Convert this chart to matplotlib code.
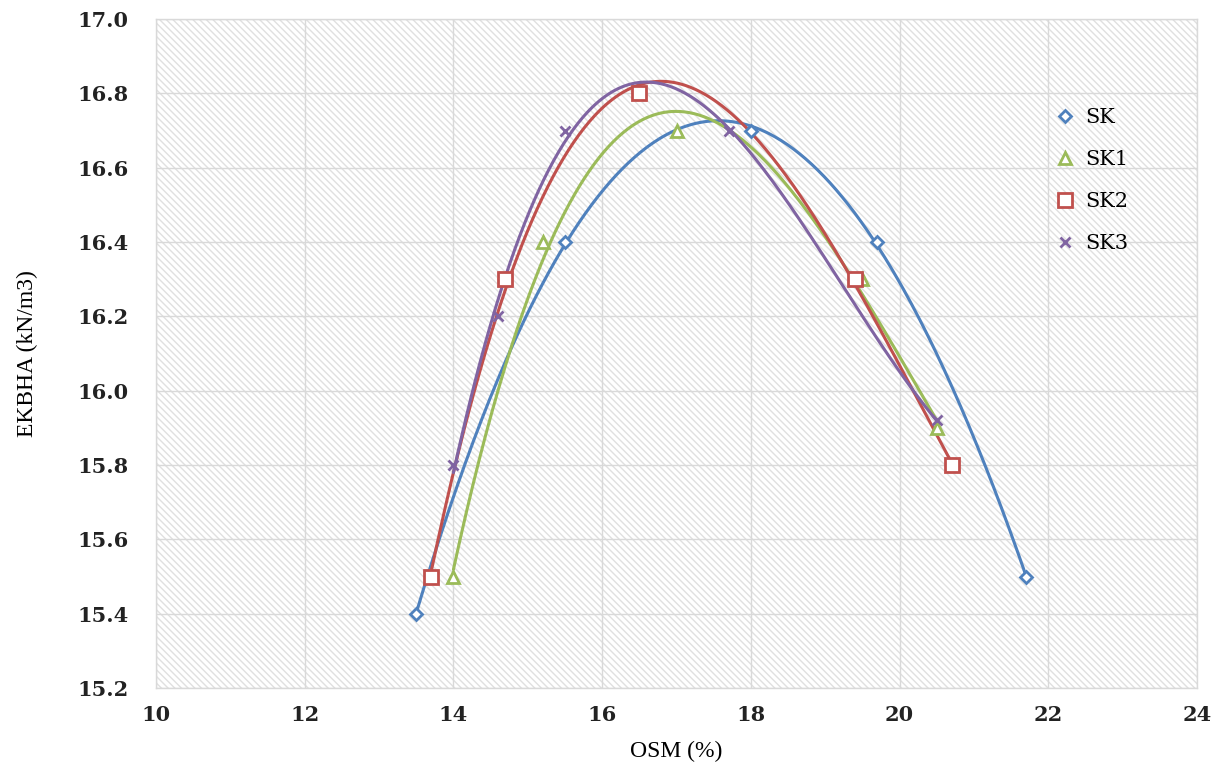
import numpy as np
import matplotlib
matplotlib.use("Agg")
import matplotlib.pyplot as plt
from matplotlib.patches import Rectangle
from matplotlib.lines import Line2D

# ---- data ----
series_names = ["SK", "SK1", "SK2", "SK3"]
sk_x = [13.5, 15.5, 18.0, 19.7, 21.7]
sk_y = [15.4, 16.4, 16.7, 16.4, 15.5]
sk1_x = [14.0, 15.2, 17.0, 19.5, 20.5]
sk1_y = [15.5, 16.4, 16.7, 16.3, 15.9]
sk2_x = [13.7, 14.7, 16.5, 19.4, 20.7]
sk2_y = [15.5, 16.3, 16.8, 16.3, 15.8]
sk3_x = [14.0, 14.6, 15.5, 17.7, 20.5]
sk3_y = [15.8, 16.2, 16.7, 16.7, 15.92]
x_ticks = [10, 12, 14, 16, 18, 20, 22, 24]
y_ticks = [15.2, 15.4, 15.6, 15.8, 16.0, 16.2, 16.4, 16.6, 16.8, 17.0]
x_label = "OSM (%)"
y_label = "EKBHA (kN/m3)"
trend_order = 3  # polynomial trendline order

colors = ["#4F81BD", "#9BBB59", "#C0504D", "#8064A2"]
markers = ["D", "^", "s", "x"]
msizes = [6, 9, 10, 7]

fig = plt.figure(figsize=(12.21, 7.73), dpi=100)
ax = fig.add_axes([156 / 1221, 1 - 688 / 773, (1197 - 156) / 1221, (688 - 19) / 773])
ax.set_xlim(10, 24)
ax.set_ylim(15.2, 17.0)
ax.patch.set_facecolor("white")
ax.add_patch(Rectangle((0, 0), 1, 1, transform=ax.transAxes, facecolor="white",
                       edgecolor="#e0e0e0", hatch="\\\\\\\\\\", linewidth=0, zorder=0))
ax.set_axisbelow(True)
ax.grid(True, color="#d9d9d9", linewidth=1.0)
for s in ax.spines.values():
    s.set_color("#d9d9d9")
    s.set_linewidth(1.0)

data = [(sk_x, sk_y), (sk1_x, sk1_y), (sk2_x, sk2_y), (sk3_x, sk3_y)]
handles = []
for (xs, ys), c, m, ms in zip(data, colors, markers, msizes):
    coef = np.polyfit(xs, ys, trend_order)
    xx = np.linspace(min(xs), max(xs), 300)
    ax.plot(xx, np.polyval(coef, xx), color=c, linewidth=2.2, zorder=3,
            solid_capstyle="round")
    if m == "x":
        kw = dict(color=c, markeredgewidth=2.0)
    else:
        kw = dict(markerfacecolor="white", markeredgecolor=c, markeredgewidth=2.0)
    ax.plot(xs, ys, linestyle="none", marker=m, markersize=ms, zorder=4, **kw)
    handles.append(Line2D([], [], linestyle="none", marker=m, markersize=ms, **kw))

ax.set_xticks(x_ticks)
ax.set_yticks(y_ticks)
ax.set_xticklabels([str(v) for v in x_ticks])
ax.set_yticklabels([f"{v:.1f}" for v in y_ticks])
ax.tick_params(axis="x", length=0, labelsize=15, pad=12)
ax.tick_params(axis="y", length=0, labelsize=15, pad=20)
for lab in ax.get_xticklabels() + ax.get_yticklabels():
    lab.set_fontfamily("DejaVu Serif")
    lab.set_fontweight("bold")
    lab.set_color("#222222")

ax.set_xlabel(x_label, fontsize=17, family="Liberation Serif", labelpad=12)
ax.set_ylabel(y_label, fontsize=17, family="Liberation Serif", labelpad=28)

ax.legend(handles, series_names, loc="upper left",
          bbox_to_anchor=((1046 - 156) / 1041, (688 - 100) / 669),
          frameon=False, handlelength=1.0, handletextpad=0.5,
          labelspacing=1.1, borderaxespad=0,
          prop={"family": "DejaVu Serif", "size": 15})

fig.savefig("out.png", dpi=100)
